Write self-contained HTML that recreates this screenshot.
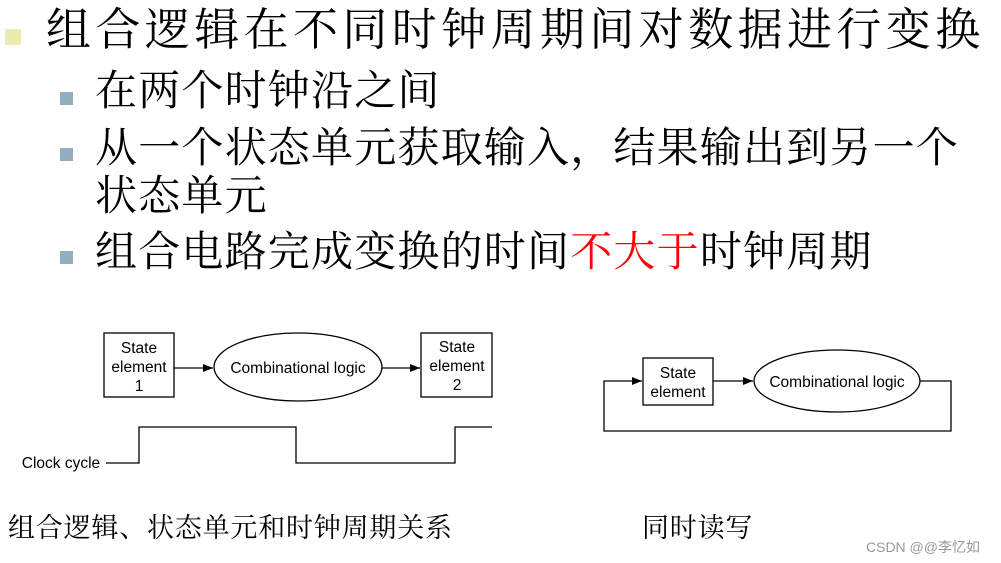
<!DOCTYPE html>
<html><head><meta charset="utf-8"><style>
body{margin:0;width:1001px;height:563px;background:#fff;position:relative;overflow:hidden}
.t{position:absolute;font-family:"Liberation Serif","Noto Serif CJK SC",serif;font-size:42px;line-height:42px;white-space:nowrap;color:#000;letter-spacing:1.2px}
.sq{position:absolute;width:13px;height:13px;background:#93afbf}
.c{position:absolute;font-family:"Liberation Serif","Noto Serif CJK SC",serif;font-size:27px;line-height:27px;white-space:nowrap;letter-spacing:0.8px}
</style></head><body>
<div style="position:absolute;left:5px;top:29px;width:16px;height:16px;background:#ecebb0"></div>
<div class="t" style="left:46px;top:8px;font-size:45px;line-height:45px;letter-spacing:4.4px">组合逻辑在不同时钟周期间对数据进行变换</div>
<div class="sq" style="left:60px;top:92px"></div>
<div class="t" style="left:95px;top:71px;">在两个时钟沿之间</div>
<div class="sq" style="left:60px;top:148px"></div>
<div class="t" style="left:95px;top:128px;">从一个状态单元获取输入，结果输出到另一个</div>
<div class="t" style="left:95px;top:176px;">状态单元</div>
<div class="sq" style="left:60px;top:251px"></div>
<div class="t" style="left:95px;top:232px;">组合电路完成变换的时间<span style="color:#f00">不大于</span>时钟周期</div>
<svg style="position:absolute;left:0;top:0" width="1001" height="563" font-family="Liberation Sans, Arial, sans-serif" font-size="15">
<defs><marker id="a" markerWidth="10" markerHeight="8" refX="10" refY="4" orient="auto" markerUnits="userSpaceOnUse"><path d="M0,0L10,4L0,8z" fill="#000"/></marker></defs>
<g fill="none" stroke="#000" stroke-width="1.3">
<rect x="104" y="333" width="70" height="64"/>
<ellipse cx="298" cy="367" rx="84" ry="34"/>
<rect x="421" y="333" width="71" height="64"/>
<line x1="174" y1="368" x2="213" y2="368" marker-end="url(#a)"/>
<line x1="382" y1="368" x2="420" y2="368" marker-end="url(#a)"/>
<polyline points="106,463 139,463 139,427 296,427 296,463 455,463 455,427 492,427"/>
<rect x="643" y="358" width="70" height="47"/>
<ellipse cx="837" cy="381" rx="83" ry="31"/>
<line x1="713" y1="381" x2="753" y2="381" marker-end="url(#a)"/>
<polyline points="920,381 951,381 951,431 604,431 604,381 642,381" marker-end="url(#a)"/>
</g>
<g fill="#000" text-anchor="middle" font-size="15.5">
<text x="139" y="353">State</text><text x="139" y="372">element</text><text x="139" y="391">1</text>
<text x="298" y="373">Combinational logic</text>
<text x="457" y="352">State</text><text x="457" y="371">element</text><text x="457" y="390">2</text>
<text x="678" y="378">State</text><text x="678" y="397">element</text>
<text x="837" y="387">Combinational logic</text>
<text x="61" y="468">Clock cycle</text>
</g>
</svg>
<div class="c" style="left:8px;top:515px">组合逻辑、状态单元和时钟周期关系</div>
<div class="c" style="left:642px;top:515px">同时读写</div>
<div style="position:absolute;left:866px;top:537px;font-family:'Liberation Sans','Noto Sans CJK SC',sans-serif;font-size:14px;color:#999">CSDN @@李忆如</div>
</body></html>
